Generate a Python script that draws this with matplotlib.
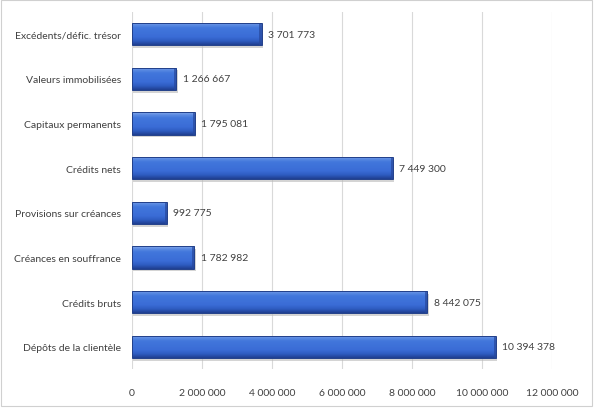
import numpy as np
import matplotlib
matplotlib.use("Agg")
import matplotlib.pyplot as plt
from matplotlib.patches import Rectangle
from matplotlib.colors import LinearSegmentedColormap
from matplotlib.ticker import FuncFormatter

categories = [
    "Dépôts de la clientèle",
    "Crédits bruts",
    "Créances en souffrance",
    "Provisions sur créances",
    "Crédits nets",
    "Capitaux permanents",
    "Valeurs immobilisées",
    "Excédents/défic. trésor",
]
values = [10394378, 8442075, 1782982, 992775, 7449300, 1795081, 1266667, 3701773]


def fmt_fr(v):
    return f"{int(v):,}".replace(",", " ")


plt.rcParams["font.family"] = ["Lato", "DejaVu Sans"]

fig = plt.figure(figsize=(5.99, 4.10), dpi=100)
ax = fig.add_axes([0.2204, 0.0976, 0.7011, 0.8707])

y = np.arange(len(categories))
bars = ax.barh(y, values, height=0.5, color="#3a6fd8", edgecolor="none", zorder=3)

# bottom -> top: dark edge, body, light rim
grad = LinearSegmentedColormap.from_list(
    "bar", [(0, "#1f3f90"), (0.18, "#2f5dc2"), (0.35, "#3a6cd6"),
            (0.75, "#4277dc"), (0.88, "#5a8ae2"), (1, "#86a9ea")])
shade = np.linspace(0, 1, 64).reshape(-1, 1)
for b in bars:
    x0, y0, w, h = b.get_x(), b.get_y(), b.get_width(), b.get_height()
    # soft shadow
    ax.add_patch(Rectangle((x0 + 40000, y0 - 0.06), w, h, color="#b8b8b8",
                           alpha=0.6, zorder=2, lw=0))
    im = ax.imshow(shade, cmap=grad, aspect="auto", extent=(x0, x0 + w, y0, y0 + h),
                   zorder=4, origin="lower")
    im.set_clip_path(b)
    # darker bevel at the bar end
    ax.add_patch(Rectangle((x0 + w - 60000, y0), 60000, h, color="#27489c",
                           alpha=0.7, zorder=4.5, lw=0))
    ax.add_patch(Rectangle((x0, y0), w, h, fill=False, edgecolor="#22408a",
                           lw=0.7, zorder=5))
    ax.text(x0 + w + 180000, y0 + h / 2, fmt_fr(w), va="center", ha="left",
            fontsize=7.5, color="#404040", zorder=6)

ax.set_xlim(0, 12000000)
ax.set_ylim(-0.5, len(categories) - 0.5)
ax.set_xticks(np.arange(0, 12000001, 2000000))
ax.xaxis.set_major_formatter(FuncFormatter(lambda v, p: fmt_fr(v)))
ax.set_yticks(y)
ax.set_yticklabels(categories)
ax.tick_params(axis="both", length=0, labelsize=7.5, colors="#404040")
ax.tick_params(axis="x", pad=14)
ax.tick_params(axis="y", pad=8)
ax.grid(axis="x", color="#d9d9d9", lw=0.8, zorder=0)
for s in ax.spines.values():
    s.set_visible(False)

fig.patches.append(Rectangle((0.002, 0.008), 0.986, 0.99, transform=fig.transFigure,
                             fill=False, edgecolor="#d0d0d0", lw=0.8))

fig.savefig("out.png", dpi=100)
